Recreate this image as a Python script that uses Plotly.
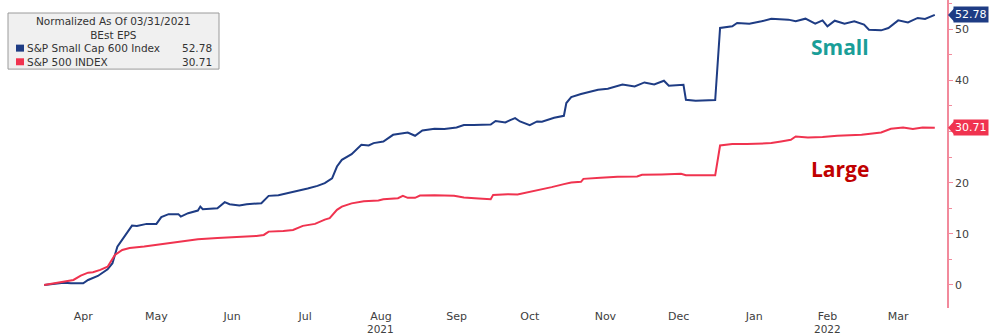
import plotly.graph_objects as go

# ---- data ----
small_dates = [
    "2021-03-31", "2021-04-08", "2021-04-11", "2021-04-16", "2021-04-18", "2021-04-22", "2021-04-26",
    "2021-04-28", "2021-04-30", "2021-05-03", "2021-05-06", "2021-05-08", "2021-05-12", "2021-05-16",
    "2021-05-18", "2021-05-21", "2021-05-25", "2021-05-26", "2021-05-29", "2021-06-02", "2021-06-03",
    "2021-06-04", "2021-06-10", "2021-06-13", "2021-06-15", "2021-06-19", "2021-06-22", "2021-06-28",
    "2021-07-01", "2021-07-05", "2021-07-09", "2021-07-13", "2021-07-17", "2021-07-21", "2021-07-24",
    "2021-07-27", "2021-07-29", "2021-07-31", "2021-08-04", "2021-08-08", "2021-08-11", "2021-08-13",
    "2021-08-17", "2021-08-21", "2021-08-27", "2021-08-30", "2021-09-02", "2021-09-07", "2021-09-11",
    "2021-09-16", "2021-09-19", "2021-09-23", "2021-09-30", "2021-10-02", "2021-10-06", "2021-10-08",
    "2021-10-10", "2021-10-12", "2021-10-16", "2021-10-19", "2021-10-21", "2021-10-26", "2021-10-30",
    "2021-10-31", "2021-11-02", "2021-11-06", "2021-11-09", "2021-11-13", "2021-11-17", "2021-11-23",
    "2021-11-28", "2021-12-02", "2021-12-06", "2021-12-10", "2021-12-12", "2021-12-18", "2021-12-19",
    "2021-12-23", "2021-12-31", "2022-01-02", "2022-01-07", "2022-01-09", "2022-01-14", "2022-01-19",
    "2022-01-23", "2022-01-30", "2022-02-02", "2022-02-06", "2022-02-10", "2022-02-13", "2022-02-15",
    "2022-02-18", "2022-02-22", "2022-02-26", "2022-03-02", "2022-03-04", "2022-03-09", "2022-03-12",
    "2022-03-16", "2022-03-20", "2022-03-24", "2022-03-27", "2022-03-31",
]
small_values = [
    0.0, 0.45, 0.33, 0.33, 0.98, 1.76, 3.07,
    4.25, 7.5, 9.45, 11.6, 11.55, 11.94, 11.94,
    13.25, 13.84, 13.84, 13.37, 14.03, 14.54, 15.32,
    14.81, 15.01, 16.18, 15.79, 15.52, 15.79, 15.99,
    17.42, 17.55, 17.95, 18.45, 18.85, 19.37, 19.9,
    20.84, 23.15, 24.46, 25.58, 27.4, 27.26, 27.73,
    28.04, 29.35, 29.8, 29.16, 30.2, 30.53, 30.47,
    30.78, 31.25, 31.25, 31.37, 32.04, 31.76, 32.23,
    32.62, 31.96, 31.25, 31.96, 31.9, 32.68, 33.07,
    35.56, 36.73, 37.32, 37.71, 38.16, 38.36, 39.2,
    38.81, 39.59, 39.2, 39.92, 38.94, 39.14, 36.2,
    36.0, 36.14, 50.23, 50.55, 51.21, 51.08, 51.53,
    52.05, 51.86, 51.53, 52.05, 51.08, 51.72, 50.55,
    51.66, 51.08, 51.53, 50.88, 49.9, 49.77, 50.23,
    51.72, 51.33, 52.19, 52.0, 52.78,
]

large_dates = [
    "2021-03-31", "2021-04-07", "2021-04-12", "2021-04-15", "2021-04-18", "2021-04-20", "2021-04-23",
    "2021-04-26", "2021-04-29", "2021-05-02", "2021-05-05", "2021-05-11", "2021-05-16", "2021-05-22",
    "2021-05-27", "2021-06-02", "2021-06-10", "2021-06-18", "2021-06-26", "2021-06-29", "2021-07-01",
    "2021-07-07", "2021-07-11", "2021-07-15", "2021-07-20", "2021-07-24", "2021-07-26", "2021-07-29",
    "2021-07-31", "2021-08-04", "2021-08-09", "2021-08-15", "2021-08-17", "2021-08-23", "2021-08-25",
    "2021-08-27", "2021-08-30", "2021-09-01", "2021-09-07", "2021-09-15", "2021-09-19", "2021-09-25",
    "2021-09-30", "2021-10-01", "2021-10-07", "2021-10-11", "2021-10-17", "2021-10-21", "2021-10-25",
    "2021-10-30", "2021-11-02", "2021-11-06", "2021-11-07", "2021-11-14", "2021-11-21", "2021-11-29",
    "2021-12-01", "2021-12-09", "2021-12-17", "2021-12-19", "2021-12-31", "2022-01-02", "2022-01-07",
    "2022-01-13", "2022-01-19", "2022-01-23", "2022-01-27", "2022-01-31", "2022-02-02", "2022-02-07",
    "2022-02-13", "2022-02-19", "2022-03-01", "2022-03-09", "2022-03-13", "2022-03-18", "2022-03-22",
    "2022-03-26", "2022-03-31",
]
large_values = [
    0.0, 0.65, 0.98, 1.82, 2.41, 2.49, 2.94,
    3.58, 5.87, 6.85, 7.24, 7.5, 7.83, 8.28,
    8.67, 8.94, 9.2, 9.33, 9.59, 9.78, 10.43,
    10.57, 10.76, 11.55, 11.94, 12.78, 13.05, 14.68,
    15.32, 15.95, 16.38, 16.5, 16.77, 16.97, 17.42,
    17.03, 17.03, 17.48, 17.55, 17.42, 17.08, 16.89,
    16.77, 17.61, 17.75, 17.67, 18.26, 18.73, 19.12,
    19.71, 20.02, 20.16, 20.74, 20.94, 21.14, 21.19,
    21.53, 21.59, 21.72, 21.43, 21.43, 27.26, 27.53,
    27.53, 27.59, 27.73, 28.04, 28.38, 29.02, 28.83,
    28.9, 29.16, 29.35, 29.8, 30.53, 30.78, 30.47,
    30.78, 30.71,
]

series_names = ["S&P Small Cap 600 Index", "S&P 500 INDEX"]
legend_title = ["Normalized As Of 03/31/2021", "BEst EPS"]
month_tick_dates = ["2021-04-16", "2021-05-16", "2021-06-16", "2021-07-16", "2021-08-16", "2021-09-16",
                    "2021-10-16", "2021-11-16", "2021-12-16", "2022-01-16", "2022-02-15", "2022-03-16"]
month_tick_labels = ["Apr", "May", "Jun", "Jul", "Aug", "Sep",
                     "Oct", "Nov", "Dec", "Jan", "Feb", "Mar"]
year_label_dates = ["2021-08-16", "2022-02-15"]
year_labels = ["2021", "2022"]
y_tick_vals = [0, 10, 20, 30, 40, 50]
y_tick_text = ["0", "10", "20", "", "40", "50"]

# ---- style ----
BLUE = "#1e3c84"
RED = "#f0334f"
AXIS = "#f28a9c"
TXT = "#404040"
FONT = "DejaVu Sans"

fig = go.Figure()
fig.add_trace(go.Scatter(x=small_dates, y=small_values, mode="lines",
                         line=dict(color=BLUE, width=2), name=series_names[0]))
fig.add_trace(go.Scatter(x=large_dates, y=large_values, mode="lines",
                         line=dict(color=RED, width=2), name=series_names[1]))

MB = 27
y_range = [-(335 - MB - 285) / 5.11, 55.7]
fig.update_layout(
    width=994, height=335,
    margin=dict(l=10, r=47, t=0, b=MB, autoexpand=False),
    paper_bgcolor="white", plot_bgcolor="white",
    showlegend=False,
    font=dict(family=FONT, color=TXT, size=11),
    xaxis=dict(type="date", range=["2021-03-17", "2022-04-05"],
               tickvals=month_tick_dates, ticktext=month_tick_labels,
               showgrid=False, zeroline=False, showline=False, ticks="",
               tickfont=dict(family=FONT, size=11, color=TXT), automargin=False),
    yaxis=dict(side="right", range=y_range, tickvals=y_tick_vals, ticktext=y_tick_text,
               showgrid=False, zeroline=False, showline=True, linecolor=AXIS, linewidth=1.5,
               ticks="outside", ticklen=4, tickcolor=AXIS, tickwidth=1,
               minor=dict(ticks="outside", ticklen=3, tickcolor=AXIS, dtick=5, tick0=5),
               tickfont=dict(family=FONT, size=11, color=TXT), automargin=False),
)

plot_w = 994 - 10 - 47
plot_h = 335 - 0 - MB
px_x = 1.0 / plot_w
px_y = (y_range[1] - y_range[0]) / plot_h

# year labels under Aug / Feb
for d, t in zip(year_label_dates, year_labels):
    fig.add_annotation(x=d, xref="x", yref="paper", y=1 - 329.2 / plot_h, text=t, showarrow=False,
                       xanchor="center", yanchor="middle", borderpad=0,
                       font=dict(family=FONT, size=10.5, color=TXT))

# value badges on the right axis
last_small = small_values[-1]
last_large = large_values[-1]
for val, col in [(last_small, BLUE), (last_large, RED)]:
    fig.add_shape(type="path", xref="paper", yref="y",
                  path=(f"M {1.0 + 1*px_x} {val} L {1.0 + 7*px_x} {val + 6.5*px_y} "
                        f"L {1.0 + 7*px_x} {val - 6.5*px_y} Z"),
                  fillcolor=col, line=dict(width=0), layer="above")
    fig.add_annotation(xref="paper", yref="y", x=1.0 + 6*px_x, y=val, xanchor="left", yanchor="middle",
                       text=f"{val:.2f}", showarrow=False, bgcolor=col, borderpad=1,
                       font=dict(family=FONT, size=11, color="white"))

# legend box
lx = lambda p: (p - 10) * px_x
ly = lambda p: 1 - p / plot_h
LFS = 10.5
LSP = LFS * 1.3
top = 13
fig.add_shape(type="rect", xref="paper", yref="paper",
              x0=lx(8), x1=lx(219), y0=ly(top), y1=ly(top + 4 * LSP + 1.5),
              fillcolor="#f0f0f0", line=dict(color="#9a9a9a", width=1), layer="above")
fig.add_annotation(xref="paper", yref="paper", x=lx(113), y=ly(top + 1), text="<br>".join(legend_title),
                   showarrow=False, xanchor="center", yanchor="top", align="center", borderpad=0,
                   font=dict(family=FONT, size=LFS, color="#333333"))
entries_top = top + 1 + 2 * LSP
fig.add_annotation(xref="paper", yref="paper", x=lx(26), y=ly(entries_top), text="<br>".join(series_names),
                   showarrow=False, xanchor="left", yanchor="top", align="left", borderpad=0,
                   font=dict(family=FONT, size=LFS, color="#333333"))
fig.add_annotation(xref="paper", yref="paper", x=lx(213), y=ly(entries_top),
                   text=f"{last_small:.2f}<br>{last_large:.2f}",
                   showarrow=False, xanchor="right", yanchor="top", align="right", borderpad=0,
                   font=dict(family=FONT, size=LFS, color="#333333"))
for i, col in enumerate([BLUE, RED]):
    yc = entries_top + LSP * (i + 0.5)
    fig.add_shape(type="rect", xref="paper", yref="paper",
                  x0=lx(16), x1=lx(24), y0=ly(yc - 3.5), y1=ly(yc + 3.5),
                  fillcolor=col, line=dict(width=0), layer="above")

# series labels
fig.add_annotation(x="2022-02-20", y=46.6, text="Small", showarrow=False,
                   font=dict(family="Open Sans", size=21, weight=700, color="#1a9e98"))
fig.add_annotation(x="2022-02-20", y=22.7, text="Large", showarrow=False,
                   font=dict(family="Open Sans", size=21, weight=700, color="#c00000"))

fig.write_html("out.html")
